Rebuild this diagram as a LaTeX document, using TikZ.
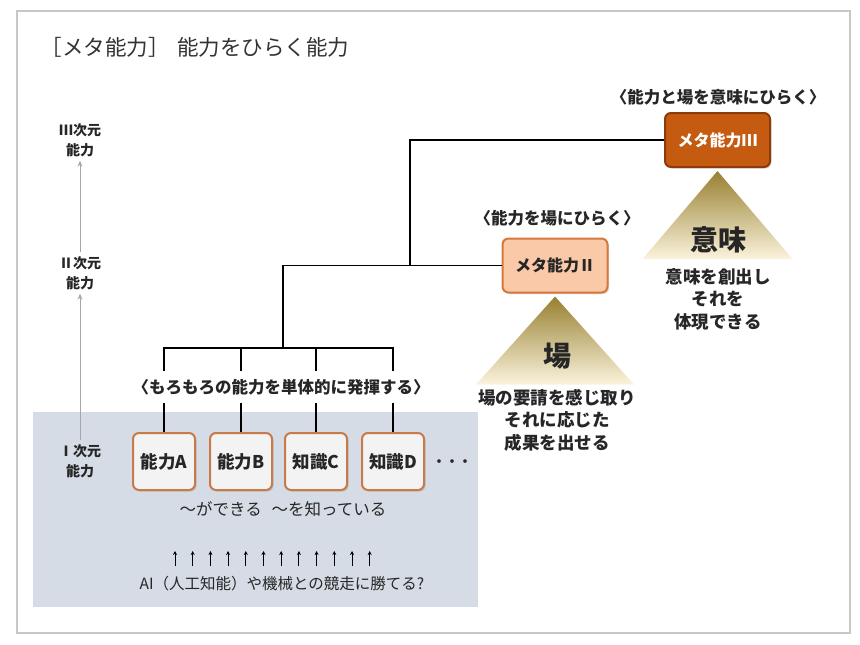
\documentclass[tikz,border=0pt]{standalone}
\usepackage{fontspec}
\setmainfont{Noto Sans CJK JP}
\usetikzlibrary{arrows.meta, shadows}

\definecolor{inkgray}{HTML}{262626}
\definecolor{framegray}{HTML}{C8C8C8}
\definecolor{panelblue}{HTML}{D6DCE5}
\definecolor{boxfill}{HTML}{F3F3F3}
\definecolor{boxedge}{HTML}{C87A48}
\definecolor{metatwofill}{HTML}{F9C9A8}
\definecolor{metatwoedge}{HTML}{D6773E}
\definecolor{metathreefill}{HTML}{C55A11}
\definecolor{metathreeedge}{HTML}{8E3B0C}
\definecolor{goldtop}{HTML}{978030}
\definecolor{goldmid}{HTML}{D6B650}
\definecolor{goldlow}{HTML}{FBF3DC}

\begin{document}
\begin{tikzpicture}[
  x = 1pt, y = -1pt,
  line width = 1.4pt,
  text = inkgray,
  ability/.style = {draw = boxedge, fill = boxfill, line width = 2pt,
    rounded corners = 6pt, minimum width = 62pt, minimum height = 57pt,
    font = \fontsize{17.5}{20}\selectfont\bfseries,
    drop shadow = {opacity = 0.3, shadow xshift = 1.5pt, shadow yshift = -1.5pt}},
  meta/.style = {line width = 2pt, rounded corners = 6pt,
    minimum width = 105pt, minimum height = 54pt,
    font = \fontsize{16}{18}\selectfont\bfseries,
    drop shadow = {opacity = 0.3, shadow xshift = 1.5pt, shadow yshift = -1.5pt}},
  caption/.style = {font = \fontsize{16.5}{19}\selectfont\bfseries},
  level/.style = {align = center, font = \fontsize{14}{20}\selectfont\bfseries},
  levelarrow/.style = {draw = gray!70, line width = 1pt, -{Stealth[length = 6pt, width = 5pt]}},
  bigword/.style = {font = \fontsize{28}{30}\selectfont\bfseries},
  story/.style = {align = center, font = \fontsize{17.5}{22.5}\selectfont\bfseries},
  smallarrow/.style = {line width = 1pt, -{Stealth[length = 4pt, width = 4pt]}},
  ]

  \useasboundingbox (0, 0) rectangle (860, 645);

  \fill [panelblue] (33, 412) rectangle (478, 607);

  \draw [framegray, line width = 1.2pt] (17, 11) rectangle (850, 633);

  \node at (40, 47) [anchor = west, inner sep = 0pt, name = Title,
    font = \fontsize{21.5}{24}\selectfont, text = black!80]
  {［メタ能力］\hspace{0.35em}能力をひらく能力};

  % levels on the left
  \node at (80, 140) [level, name = LevelIII] {Ⅲ次元\\能力};

  \node at (80, 273) [level, name = LevelII] {Ⅱ次元\\能力};

  \node at (80, 461) [level, name = LevelI] {Ⅰ次元\\能力};

  \draw [levelarrow] (LevelII.north) to (LevelIII.south);

  \draw [levelarrow] (LevelI.north) to (LevelII.south);

  % first dimension
  \node at (164, 461.5) [ability, name = AbilityA] {能力A};

  \node at (241, 461.5) [ability, name = AbilityB] {能力B};

  \node at (316, 461.5) [ability, name = KnowC] {知識C};

  \node at (393, 461.5) [ability, name = KnowD] {知識D};

  \node at (452, 463) [font = \fontsize{13}{14}\selectfont\bfseries, name = More] {・・・};

  \node at (283, 509) [font = \fontsize{16.5}{19}\selectfont, name = CanKnow]
  {〜ができる\hspace{0.6em}〜を知っている};

  \node at (282, 584) [font = \fontsize{15.5}{18}\selectfont, name = AIText]
  {AI（人工知能）や機械との競走に勝てる?};

  \foreach \i in {0, ..., 11}
    \draw [smallarrow] (175 + \i * 17.7, 566) -- ++(0, -15);

  \node at (281, 387) [caption, inner ysep = 7pt, name = Single]
  {〈もろもろの能力を単体的に発揮する〉};

  % second and third dimension
  \node at (555, 265.5) [meta, draw = metatwoedge, fill = metatwofill, name = MetaII] {メタ能力Ⅱ};

  \node at (557, 218) [caption, name = LabelII] {〈能力を場にひらく〉};

  \node at (717.5, 140) [meta, draw = metathreeedge, fill = metathreefill, text = white, name = MetaIII] {メタ能力Ⅲ};

  \node at (718, 97) [caption, name = LabelIII] {〈能力と場を意味にひらく〉};

  \shade [top color = goldtop, middle color = goldmid, bottom color = goldlow]
  ([yshift = -3pt] MetaII.south) -- ++(-79, 88) -- ++(158, 0) -- cycle;

  \shade [top color = goldtop, middle color = goldmid, bottom color = goldlow]
  ([yshift = -3pt] MetaIII.south) -- ++(-75, 88) -- ++(150, 0) -- cycle;

  \node at (557, 356) [bigword, name = Field] {場};

  \node at (557, 420) [story, name = FieldText] {場の要請を感じ取り\\それに応じた\\成果を出せる};

  \node at (718, 240) [bigword, name = Meaning] {意味};

  \node at (718, 299) [story, name = MeaningText] {意味を創出し\\それを\\体現できる};

  % tree
  \coordinate (BarI) at (283, 348);

  \coordinate (BarII) at (410, 265.5);

  \draw (AbilityA.north) -- (AbilityA.north |- Single.south);

  \draw (AbilityB.north) -- (AbilityB.north |- Single.south);

  \draw (KnowC.north) -- (KnowC.north |- Single.south);

  \draw (KnowD.north) -- (KnowD.north |- Single.south);

  \draw (AbilityA.north |- Single.north) |- (BarI);

  \draw (KnowD.north |- Single.north) |- (BarI);

  \draw (AbilityB.north |- Single.north) -- (AbilityB.north |- BarI);

  \draw (KnowC.north |- Single.north) -- (KnowC.north |- BarI);

  \draw (BarI) |- (MetaII.west);

  \draw (BarII) |- (MetaIII.west);

\end{tikzpicture}
\end{document}
